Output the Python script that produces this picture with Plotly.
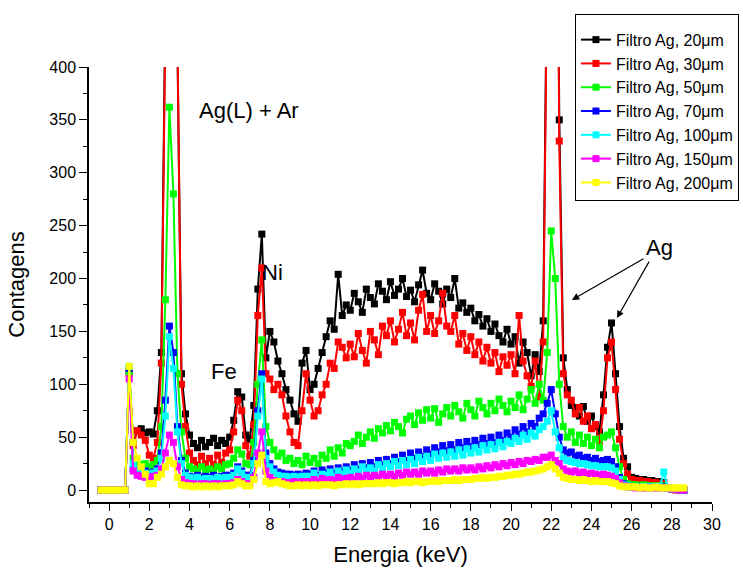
import plotly.graph_objects as go

# Energy channels (keV)
E = [-0.4, -0.2,
     0.0, 0.2, 0.4, 0.6, 0.8, 1.0, 1.2, 1.4, 1.6, 1.8,
     2.0, 2.2, 2.4, 2.6, 2.8, 3.0, 3.2, 3.4, 3.6, 3.8,
     4.0, 4.2, 4.4, 4.6, 4.8, 5.0, 5.2, 5.4, 5.6, 5.8,
     6.0, 6.2, 6.4, 6.6, 6.8, 7.0, 7.2, 7.4, 7.6, 7.8,
     8.0, 8.2, 8.4, 8.6, 8.8, 9.0, 9.2, 9.4, 9.6, 9.8,
     10.0, 10.2, 10.4, 10.6, 10.8, 11.0, 11.2, 11.4, 11.6, 11.8,
     12.0, 12.2, 12.4, 12.6, 12.8, 13.0, 13.2, 13.4, 13.6, 13.8,
     14.0, 14.2, 14.4, 14.6, 14.8, 15.0, 15.2, 15.4, 15.6, 15.8,
     16.0, 16.2, 16.4, 16.6, 16.8, 17.0, 17.2, 17.4, 17.6, 17.8,
     18.0, 18.2, 18.4, 18.6, 18.8, 19.0, 19.2, 19.4, 19.6, 19.8,
     20.0, 20.2, 20.4, 20.6, 20.8, 21.0, 21.2, 21.4, 21.6, 21.8,
     22.0, 22.2, 22.4, 22.6, 22.8, 23.0, 23.2, 23.4, 23.6, 23.8,
     24.0, 24.2, 24.4, 24.6, 24.8, 25.0, 25.2, 25.4, 25.6, 25.8,
     26.0, 26.2, 26.4, 26.6, 26.8, 27.0, 27.2, 27.4, 27.6, 27.8,
     28.0, 28.2, 28.4, 28.6]

ag20 = [0, 0,
        0, 0, 0, 0, 0, 112, 45, 56, 58, 54,
        55, 53, 75, 130, 460, 1100, 1050, 420, 110, 72,
        52, 44, 40, 47, 41, 45, 49, 42, 47, 44,
        50, 66, 93, 88, 52, 48, 80, 190, 242, 125,
        150, 140, 122, 110, 95, 85, 72, 65, 120, 132,
        95, 100, 115, 130, 145, 160, 152, 204, 165, 175,
        170, 186, 178, 168, 190, 182, 176, 195, 188, 180,
        197, 184, 190, 200, 183, 189, 178, 194, 208, 186,
        180, 195, 188, 176, 190, 182, 200, 172, 177, 168,
        172, 160, 166, 155, 162, 150, 157, 146, 140, 152,
        138, 145, 120, 140, 130, 108, 128, 112, 160, 520,
        1500, 900, 350, 125, 95, 80, 78, 70, 79, 65,
        70, 60, 55, 90, 135, 158, 110, 60, 30, 22,
        12, 11, 10, 10, 9, 9, 8, 8, 7, 2,
        1, 1, 0, 0]

ag30 = [0, 0,
        0, 0, 0, 0, 0, 110, 42, 56, 52, 47,
        33, 30, 45, 120, 440, 1050, 1000, 430, 100, 60,
        35, 28, 24, 32, 25, 30, 24, 33, 26, 35,
        38, 55, 85, 75, 42, 32, 62, 165, 210, 110,
        105, 95, 100, 90, 70, 55, 45, 42, 75, 110,
        85, 70, 75, 90, 100, 120, 115, 140, 135, 125,
        138, 126, 148, 132, 120, 150, 142, 128, 155, 146,
        160, 140, 152, 168, 146, 158, 142, 170, 185, 150,
        165, 148, 160, 186, 155, 150, 165, 138, 148, 132,
        145, 128, 140, 122, 135, 120, 130, 112, 126, 118,
        128, 110, 165, 122, 108, 98, 122, 88, 140, 500,
        1400, 850, 330, 110, 90, 85, 72, 78, 65, 70,
        58, 62, 45, 75, 125, 140, 95, 48, 25, 15,
        10, 9, 9, 8, 8, 7, 7, 6, 6, 2,
        1, 0, 0, 0]

ag50 = [0, 0,
        0, 0, 0, 0, 0, 112, 30, 26, 24, 25,
        22, 24, 28, 60, 180, 362, 280, 110, 55, 30,
        22, 20, 18, 22, 19, 20, 18, 22, 20, 24,
        25, 30, 38, 34, 25, 24, 45, 100, 142, 60,
        45, 38, 32, 35, 28, 30, 25, 28, 24, 32,
        26, 30, 25, 33, 30, 38, 32, 40, 35, 44,
        42, 46, 52, 44, 50, 55, 49, 58, 54, 61,
        56, 64, 60, 54, 67, 70, 62, 73, 66, 76,
        68, 77, 64, 72, 78, 70, 80, 74, 68, 82,
        76, 70, 84, 78, 72, 82, 75, 86, 80, 74,
        84, 78, 90, 76, 86, 95, 82, 100, 85, 130,
        245, 200, 100, 60, 50, 55, 45, 52, 44, 50,
        42, 48, 40, 50, 52, 55, 40, 22, 10, 6,
        5, 5, 4, 5, 4, 4, 4, 4, 4, 2,
        1, 1, 0, 0]

ag70 = [0, 0,
        0, 0, 0, 0, 0, 115, 20, 18, 17, 18,
        16, 17, 20, 35, 85, 155, 130, 60, 28, 16,
        13, 12, 14, 12, 13, 12, 14, 12, 13, 14,
        14, 16, 22, 18, 14, 14, 28, 75, 110, 35,
        25, 20, 17, 16, 15, 15, 14, 15, 14, 16,
        15, 18, 14, 19, 16, 20, 16, 21, 18, 22,
        19, 24, 20, 25, 21, 26, 22, 28, 24, 29,
        25, 31, 27, 33, 28, 35, 30, 36, 32, 38,
        34, 40, 36, 42, 37, 43, 38, 45, 40, 46,
        41, 47, 43, 49, 44, 50, 45, 52, 47, 54,
        50, 57, 53, 60, 55, 63, 60, 68, 72, 82,
        95, 72, 50, 38, 35, 36, 32, 33, 30, 31,
        28, 30, 27, 28, 29, 27, 22, 12, 6, 4,
        3, 3, 3, 3, 3, 3, 3, 3, 3, 2,
        1, 1, 0, 0]

ag100 = [0, 0,
         0, 0, 0, 0, 0, 117, 25, 18, 17, 16,
         15, 16, 18, 30, 70, 145, 115, 55, 25, 14,
         12, 11, 12, 10, 11, 11, 10, 12, 11, 12,
         12, 14, 20, 16, 12, 12, 25, 70, 105, 30,
         22, 17, 14, 13, 13, 12, 13, 12, 13, 13,
         13, 16, 12, 15, 14, 17, 13, 18, 15, 19,
         16, 20, 17, 22, 18, 21, 18, 24, 20, 25,
         22, 27, 23, 28, 24, 29, 25, 31, 27, 32,
         28, 34, 30, 35, 31, 36, 32, 38, 33, 39,
         35, 40, 36, 42, 38, 43, 39, 45, 41, 46,
         44, 49, 46, 52, 48, 54, 51, 57, 60, 65,
         75, 55, 40, 30, 28, 27, 26, 25, 25, 24,
         23, 23, 22, 22, 22, 21, 18, 10, 5, 4,
         3, 3, 3, 3, 3, 3, 3, 3, 17, 2,
         1, 1, 0, 0]

ag150 = [0, 0,
         0, 0, 0, 0, 0, 105, 18, 14, 13, 12,
         12, 13, 14, 20, 35, 52, 45, 22, 10, 7,
         6, 6, 5, 6, 6, 5, 6, 6, 5, 6,
         6, 7, 10, 8, 6, 6, 12, 35, 55, 18,
         12, 9, 8, 8, 7, 7, 8, 7, 8, 8,
         8, 10, 8, 11, 9, 10, 9, 12, 10, 11,
         12, 10, 13, 11, 14, 12, 14, 12, 15, 13,
         15, 13, 16, 14, 17, 15, 17, 15, 18, 16,
         18, 16, 19, 17, 20, 18, 20, 18, 21, 19,
         21, 19, 22, 20, 23, 21, 24, 22, 25, 23,
         26, 24, 27, 25, 28, 27, 29, 28, 31, 31,
         33, 28, 25, 20, 18, 17, 18, 16, 17, 15,
         16, 15, 14, 15, 14, 13, 11, 7, 4, 3,
         3, 2, 2, 2, 2, 2, 2, 2, 2, 2,
         1, 1, 0, 0]

ag200 = [0, 0,
         0, 0, 0, 0, 0, 117, 45, 30, 22, 15,
         6, 6, 12, 15, 22, 28, 25, 12, 5, 4,
         4, 3, 4, 3, 4, 3, 4, 3, 4, 4,
         4, 5, 8, 6, 4, 4, 10, 25, 33, 8,
         6, 7, 8, 6, 5, 4, 4, 5, 4, 5,
         4, 5, 4, 5, 5, 5, 4, 5, 5, 6,
         5, 6, 5, 6, 6, 6, 6, 7, 6, 7,
         7, 6, 7, 7, 8, 7, 8, 8, 7, 8,
         8, 9, 8, 9, 9, 9, 10, 9, 10, 10,
         10, 11, 11, 12, 11, 12, 12, 13, 13, 14,
         14, 15, 15, 16, 17, 17, 18, 19, 20, 22,
         24, 20, 16, 12, 11, 10, 10, 9, 10, 9,
         8, 9, 8, 8, 8, 7, 6, 4, 3, 3,
         3, 3, 2, 3, 2, 2, 3, 2, 2, 2,
         2, 2, 2, 2]

names = ["Filtro Ag, 20μm", "Filtro Ag, 30μm", "Filtro Ag, 50μm", "Filtro Ag, 70μm",
         "Filtro Ag, 100μm", "Filtro Ag, 150μm", "Filtro Ag, 200μm"]
colors = ["#000000", "#FF0000", "#00FF00", "#0000FF", "#00FFFF", "#FF00FF", "#FFFF00"]
series = [ag20, ag30, ag50, ag70, ag100, ag150, ag200]

FONT = "Liberation Sans, Arial, sans-serif"

fig = go.Figure()
for nm, col, vals in zip(names, colors, series):
    assert len(vals) == len(E), (nm, len(vals), len(E))
    fig.add_trace(go.Scatter(
        x=E, y=vals, mode="lines+markers", name=nm,
        line=dict(color=col, width=2),
        marker=dict(symbol="square", size=7, color=col),
    ))

axis_common = dict(
    showgrid=False, zeroline=False, showline=True, linecolor="black", linewidth=1.5,
    ticks="outside", tickcolor="black", tickwidth=1.3,
    tickfont=dict(family=FONT, size=16, color="black"),
    mirror=False,
)

fig.update_layout(
    width=743, height=570,
    margin=dict(l=89, r=31, t=67, b=68, autoexpand=False),
    paper_bgcolor="white", plot_bgcolor="white",
    font=dict(family=FONT, color="black"),
    xaxis=dict(range=[-1, 30], dtick=2, tick0=0, ticklen=7,
               minor=dict(dtick=1, ticklen=4, ticks="outside", tickcolor="black", tickwidth=1.2),
               title=dict(text="Energia (keV)", font=dict(family=FONT, size=22), standoff=15),
               **axis_common),
    yaxis=dict(range=[-11.3, 400], dtick=50, tick0=0, ticklen=8,
               minor=dict(dtick=25, ticklen=4, ticks="outside", tickcolor="black", tickwidth=1.2),
               title=dict(text="Contagens", font=dict(family=FONT, size=22), standoff=19),
               **axis_common),
    legend=dict(x=0.78, y=1.122, xanchor="left", yanchor="top",
                bordercolor="black", borderwidth=1, bgcolor="white",
                font=dict(family=FONT, size=16, color="black"),
                title=dict(text=" ", font=dict(size=6)),
                tracegroupgap=0),
    showlegend=True,
)

txt = dict(family=FONT, size=22, color="black")
fig.add_annotation(x=6.94, y=359, text="Ag(L) + Ar", showarrow=False, font=txt,
                   xanchor="center", yanchor="middle")
fig.add_annotation(x=8.15, y=206, text="Ni", showarrow=False, font=txt,
                   xanchor="center", yanchor="middle")
fig.add_annotation(x=5.71, y=112.5, text="Fe", showarrow=False, font=txt,
                   xanchor="center", yanchor="middle")
fig.add_annotation(x=27.41, y=229, text="Ag", showarrow=False, font=txt,
                   xanchor="center", yanchor="middle")
fig.add_annotation(x=23.03, y=179.7, ax=73, ay=-42, text="", showarrow=True,
                   arrowhead=2, arrowsize=1.2, arrowwidth=1.2, arrowcolor="black")
fig.add_annotation(x=25.27, y=162.6, ax=33, ay=-58, text="", showarrow=True,
                   arrowhead=2, arrowsize=1.2, arrowwidth=1.2, arrowcolor="black")

fig.write_html("out.html")
